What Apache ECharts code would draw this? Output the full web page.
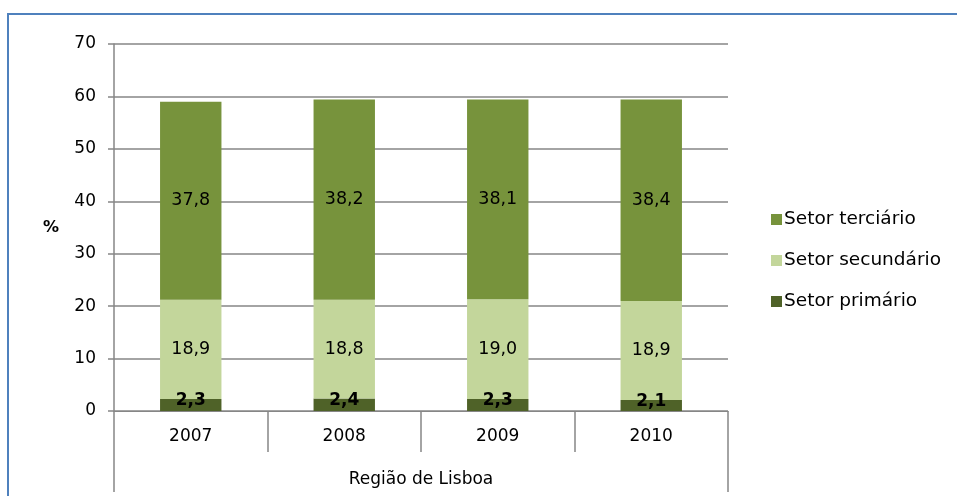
<!DOCTYPE html>
<html>
<head>
<meta charset="utf-8">
<script src="https://cdn.jsdelivr.net/npm/echarts@6/dist/echarts.min.js"></script>
<style>
  html, body { margin: 0; padding: 0; background: #fff; }
  #chart { width: 957px; height: 496px; }
</style>
</head>
<body>
<div id="chart"></div>
<script>
// dados
var anos = ['2007', '2008', '2009', '2010'];
var regiao = ['Região de Lisboa'];
var primario = [2.3, 2.4, 2.3, 2.1];
var secundario = [18.9, 18.8, 19.0, 18.9];
var terciario = [37.8, 38.2, 38.1, 38.4];

var fonte = 'DejaVu Sans';
var cinza = '#868686';

var virgula = function (p) {
    return p.value.toFixed(1).replace('.', ',');
};

var chart = echarts.init(document.getElementById('chart'));

chart.setOption({
    animation: false,
    textStyle: { fontFamily: fonte, color: '#000' },
    graphic: [{
        type: 'rect',
        shape: { x: 8, y: 14, width: 1200, height: 800 },
        style: { fill: 'none', stroke: '#4F81BD', lineWidth: 2 },
        silent: true
    }],
    grid: { left: 114, right: 229, top: 44, bottom: 85 },
    legend: {
        orient: 'vertical',
        left: 766,
        top: 205,
        itemWidth: 11,
        itemHeight: 11,
        itemGap: 22,
        icon: 'rect',
        textStyle: { fontFamily: fonte, fontSize: 18.5, color: '#000', padding: [0, 0, 0, -3] },
        data: ['Setor terciário', 'Setor secundário', 'Setor primário']
    },
    xAxis: [{
        type: 'category',
        data: anos,
        position: 'bottom',
        axisLine: { lineStyle: { color: cinza } },
        axisTick: { show: true, interval: 0, length: 41, lineStyle: { color: cinza, width: 1.5 } },
        axisLabel: { margin: 17, fontSize: 17, color: '#000' }
    }, {
        type: 'category',
        data: regiao,
        position: 'bottom',
        axisLine: { show: false },
        axisTick: { show: true, interval: 0, length: 81, lineStyle: { color: cinza, width: 1.5 } },
        axisLabel: { margin: 60, fontSize: 17, color: '#000' }
    }],
    yAxis: {
        type: 'value',
        min: 0, max: 70, interval: 10,
        name: '%',
        nameLocation: 'middle',
        nameRotate: 0,
        nameGap: 55,
        nameTextStyle: { fontSize: 16, fontWeight: 'bold', color: '#000' },
        axisLine: { show: true, lineStyle: { color: cinza, width: 1.5 } },
        axisTick: { show: true, length: 6, lineStyle: { color: cinza, width: 1.5 } },
        axisLabel: { margin: 18, fontSize: 17, color: '#000' },
        splitLine: { lineStyle: { color: cinza, width: 1.5 } }
    },
    series: [{
        name: 'Setor primário',
        type: 'bar',
        stack: 'total',
        barWidth: '40%',
        data: primario,
        itemStyle: { color: '#4F6228' },
        label: { show: true, position: 'inside', offset: [0, -4], formatter: virgula,
                 fontSize: 17, fontWeight: 'bold', color: '#000' }
    }, {
        name: 'Setor secundário',
        type: 'bar',
        stack: 'total',
        data: secundario,
        itemStyle: { color: '#C3D69B' },
        label: { show: true, position: 'inside', formatter: virgula, fontSize: 17.5, color: '#000' }
    }, {
        name: 'Setor terciário',
        type: 'bar',
        stack: 'total',
        data: terciario,
        itemStyle: { color: '#77933C' },
        label: { show: true, position: 'inside', formatter: virgula, fontSize: 17.5, color: '#000' }
    }]
});
</script>
</body>
</html>
